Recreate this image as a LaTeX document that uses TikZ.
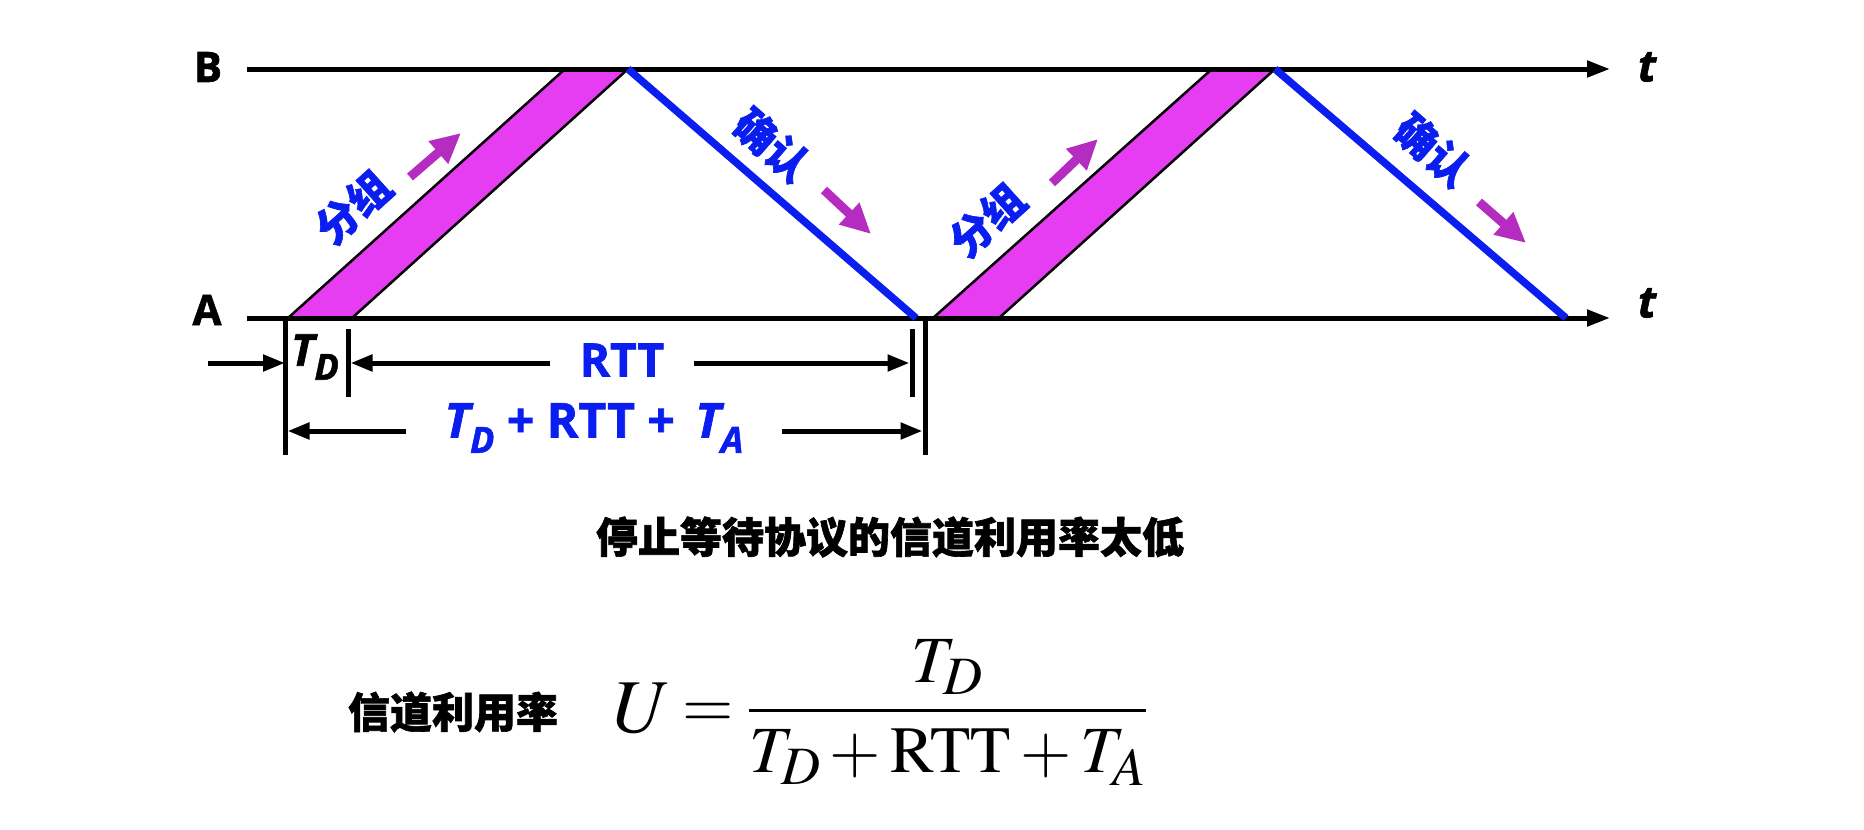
\documentclass[tikz,border=0pt]{standalone}
\usepackage{mathptmx}
\usepackage[no-math]{fontspec}
\newfontfamily\cjk{Noto Sans CJK SC}[BoldFeatures={FakeBold=1.5}]
\newfontfamily\lat{Open Sans}[BoldFeatures={FakeBold=1.5},BoldItalicFeatures={FakeBold=1.5}]
\usetikzlibrary{arrows.meta}
\definecolor{pktfill}{HTML}{E63CF2}
\definecolor{movecol}{HTML}{B52DC0}
\definecolor{ackblue}{HTML}{0A1EF0}
\DeclareMathSizes{66}{66}{54}{44}
\newcommand{\sub}[1]{\raisebox{-0.32em}{\fontsize{36}{36}\selectfont #1}}

\begin{document}
\begin{tikzpicture}[x=1pt,y=-1pt,every node/.style={inner sep=0pt},
  timeline/.style={line width=5pt,-{Triangle[length=23pt,width=16pt]}},
  pktband/.style={fill=pktfill,draw=black,line width=2.5pt},
  ackline/.style={ackblue,line width=7.5pt},
  movearrow/.style={movecol,line width=9pt,-{Triangle[length=30pt,width=28pt]}},
  dimtick/.style={line width=5pt},
  dimline/.style={line width=5pt,-{Triangle[length=22pt,width=16pt]}},
  latlbl/.style={font=\lat\bfseries\fontsize{42}{42}\selectfont},
  cnlbl/.style={font=\cjk\bfseries\fontsize{42}{42}\selectfont,text=ackblue}]
  \useasboundingbox (0,0) rectangle (1864,830);
  % time axes
  \coordinate (B0) at (247,69);  \coordinate (B1) at (1610,69);
  \coordinate (A0) at (247,318); \coordinate (A1) at (1610,318);
  % first packet and its ack
  \coordinate (p1a) at (288,318); \coordinate (p1b) at (352,318);
  \coordinate (p1c) at (628,69);  \coordinate (p1d) at (565,69);
  \coordinate (k1) at (916,318);
  % second packet and its ack
  \coordinate (p2a) at (933,318); \coordinate (p2b) at (999,318);
  \coordinate (p2c) at (1275,69); \coordinate (p2d) at (1212,69);
  \coordinate (k2) at (1566,318);
  \draw[pktband] (p1a) -- (p1b) -- (p1c) -- (p1d) -- cycle;
  \draw[pktband] (p2a) -- (p2b) -- (p2c) -- (p2d) -- cycle;
  \draw[timeline] (B0) -- (B1);
  \draw[timeline] (A0) -- (A1);
  \draw[ackline] (p1c) -- (k1);
  \draw[ackline] (p2c) -- (k2);
  \node[latlbl] (labB) at (208,67) {B};
  \node[latlbl] (labA) at (207,310) {A};
  \node[latlbl,font=\lat\bfseries\itshape\fontsize{44}{44}\selectfont] (tB) at (1647,67) {t};
  \node[latlbl,font=\lat\bfseries\itshape\fontsize{44}{44}\selectfont] (tA) at (1647,303) {t};
  % labels on the lines
  \node[cnlbl,rotate=42] (grp1) at (353,207) {分组};
  \node[cnlbl,rotate=42] (grp2) at (987,220) {分组};
  \node[cnlbl,rotate=-41] (ack1) at (772,145) {确认};
  \node[cnlbl,rotate=-41] (ack2) at (1433,150) {确认};
  \coordinate (m1s) at (410,177);  \coordinate (m1e) at (461,133);
  \coordinate (m2s) at (1052,183); \coordinate (m2e) at (1098,139);
  \coordinate (m3s) at (824,190);  \coordinate (m3e) at (871,234);
  \coordinate (m4s) at (1479,202); \coordinate (m4e) at (1526,243);
  \draw[movearrow] (m1s) -- (m1e);
  \draw[movearrow] (m2s) -- (m2e);
  \draw[movearrow] (m3s) -- (m3e);
  \draw[movearrow] (m4s) -- (m4e);
  % dimensions
  \coordinate (d0t) at (285,318); \coordinate (d0b) at (285,455);
  \coordinate (d3t) at (925,318); \coordinate (d3b) at (925,455);
  \coordinate (d1t) at (348,329); \coordinate (d1b) at (348,397);
  \coordinate (d2t) at (912,329); \coordinate (d2b) at (912,397);
  \draw[dimtick] (d0t) -- (d0b);
  \draw[dimtick] (d3t) -- (d3b);
  \draw[dimtick] (d1t) -- (d1b);
  \draw[dimtick] (d2t) -- (d2b);
  \coordinate (tdin) at (208,363);
  \node[latlbl,font=\lat\bfseries\itshape\fontsize{44}{44}\selectfont] (td) at (315,357) {T\sub{D}};
  \node[latlbl,text=ackblue,font=\lat\bfseries\fontsize{46}{46}\selectfont,inner xsep=30pt] (rtt) at (622,360) {RTT};
  \node[latlbl,text=ackblue,font=\lat\bfseries\fontsize{48}{48}\selectfont,inner xsep=38pt] (sum) at (594,428)
    {{\itshape T\sub{D}} + RTT +\, {\itshape T\sub{A}}};
  \draw[dimline] (tdin) -- (d0t |- tdin);
  \draw[dimline] (rtt.west |- tdin) -- ([xshift=2.5pt]d1t |- tdin);
  \draw[dimline] (rtt.east |- tdin) -- ([xshift=-2.5pt]d2t |- tdin);
  \draw[dimline] (sum.west |- 0,431) -- ([xshift=2.5pt]d0t |- 0,431);
  \draw[dimline] (sum.east |- 0,431) -- ([xshift=-2.5pt]d3t |- 0,431);
  % caption and formula
  \node[font=\cjk\bfseries\fontsize{42}{42}\selectfont] (cap) at (890,537) {停止等待协议的信道利用率太低};
  \node[font=\cjk\bfseries\fontsize{42}{42}\selectfont] (util) at (453,712) {信道利用率};
  \node[font=\fontsize{76}{80}\selectfont] (U) at (642,708) {$U$};
  \node[font=\fontsize{66}{72}\selectfont,anchor=base west] (frac) at (682,727)
    {$\displaystyle=\frac{T_D}{T_D+\mathrm{RTT}+T_A}$};
\end{tikzpicture}
\end{document}
